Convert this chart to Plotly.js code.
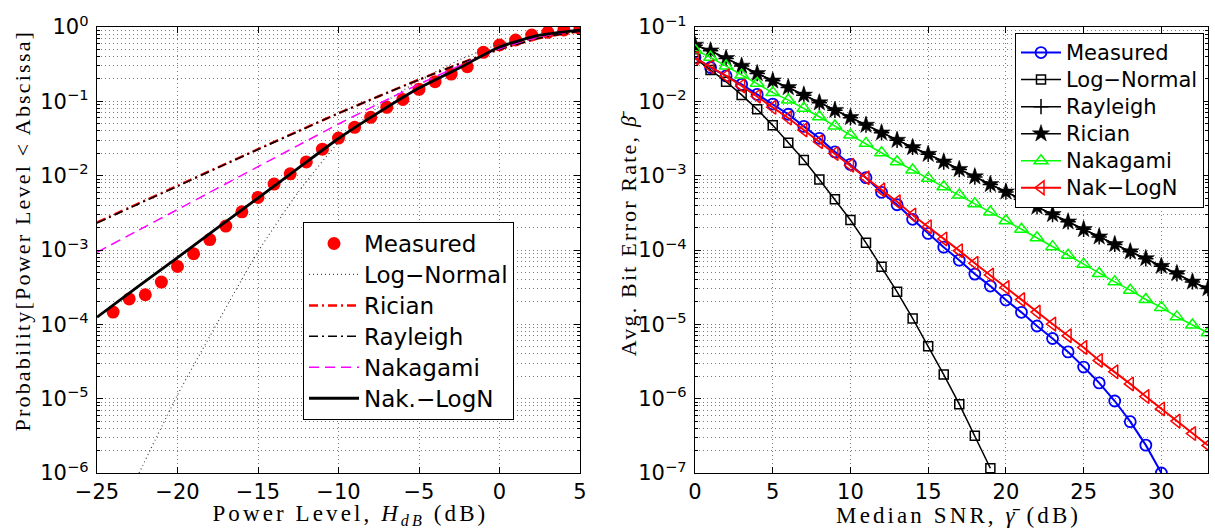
<!DOCTYPE html>
<html><head><meta charset="utf-8">
<script src="https://cdn.plot.ly/plotly-3.0.1.min.js"></script>
<style>
html,body{margin:0;padding:0;background:#fff;}
#chart{width:1215px;height:529px;}
.annotation[data-index="0"] .annotation-text,
.annotation[data-index="1"] .annotation-text{letter-spacing:3.1px;}
.annotation[data-index="2"] .annotation-text,
.annotation[data-index="3"] .annotation-text{letter-spacing:2.2px;}
</style></head><body><div id="chart"></div>
<script>
// ---------- Left panel: CDF of power level ----------
const leftNames = ['Measured', 'Log\u2212Normal', 'Rician', 'Rayleigh', 'Nakagami', 'Nak.\u2212LogN'];
const measuredDb = [-24,-23,-22,-21,-20,-19,-18,-17,-16,-15,-14,-13,-12,-11,-10,-9,-8,-7,-6,-5,-4,-3,-2,-1,0,1,2,3,4,5];
const measuredProb = [1.46e-4,2.2e-4,2.5e-4,3.7e-4,6.0e-4,8.9e-4,1.38e-3,2.1e-3,3.26e-3,5.1e-3,7.7e-3,1.06e-2,1.53e-2,2.27e-2,3.2e-2,4.47e-2,6.1e-2,8.3e-2,0.106,0.145,0.184,0.233,0.292,0.457,0.573,0.668,0.78,0.849,0.912,0.96];
const curveDb = [-25,-22.5,-20,-17.5,-15,-12.5,-10,-7.5,-5,-2.5,0,2.5,5];
const logNormalProb = [null,8.9e-7,1.12e-5,1.07e-4,9.5e-4,6.0e-3,2.8e-2,8.5e-2,0.19,0.36,0.59,0.79,0.91];
const ricianProb = [2.35e-3,4.15e-3,7.3e-3,1.29e-2,2.27e-2,3.97e-2,6.9e-2,0.117,0.196,0.32,0.50,0.71,0.88];
const rayleighProb = [2.3e-3,4.1e-3,7.2e-3,1.28e-2,2.25e-2,3.95e-2,6.9e-2,0.117,0.195,0.32,0.50,0.71,0.88];
const nakagamiProb = [9.3e-4,1.81e-3,3.5e-3,6.8e-3,1.32e-2,2.56e-2,4.95e-2,9.3e-2,0.17,0.30,0.51,0.74,0.90];
const nakLogNProb = [1.25e-4,3.16e-4,7.9e-4,2.0e-3,5.0e-3,1.26e-2,3.16e-2,7.1e-2,0.151,0.28,0.537,0.776,0.91];
const leftExps = [-6,-5,-4,-3,-2,-1,0];

// ---------- Right panel: average BER ----------
const rightNames = ['Measured', 'Log\u2212Normal', 'Rayleigh', 'Rician', 'Nakagami', 'Nak\u2212LogN'];
const snrDb = [0,1,2,3,4,5,6,7,8,9,10,11,12,13,14,15,16,17,18,19,20,21,22,23,24,25,26,27,28,29,30,31,32,33];
const measuredBer = [3.9e-2,2.85e-2,2.2e-2,1.69e-2,1.24e-2,9.2e-3,6.7e-3,4.6e-3,3.18e-3,2.09e-3,1.42e-3,9.4e-4,5.97e-4,4.06e-4,2.59e-4,1.67e-4,1.09e-4,7.3e-5,4.74e-5,3.27e-5,2.12e-5,1.45e-5,9.5e-6,6.45e-6,4.26e-6,2.66e-6,1.63e-6,9.3e-7,4.9e-7,2.37e-7,1.0e-7];
const logNormalBer = [3.79e-2,2.64e-2,1.84e-2,1.22e-2,7.8e-3,4.75e-3,2.77e-3,1.62e-3,8.9e-4,4.8e-4,2.53e-4,1.25e-4,5.94e-5,2.74e-5,1.2e-5,5.08e-6,2.11e-6,8.43e-7,3.16e-7,1.16e-7];
const rayleighBer = [5.7e-2,4.78e-2,3.78e-2,2.98e-2,2.37e-2,1.89e-2,1.53e-2,1.21e-2,9.6e-3,7.6e-3,6.0e-3,4.8e-3,3.77e-3,3.0e-3,2.4e-3,1.94e-3,1.53e-3,1.21e-3,9.6e-4,7.6e-4,6.05e-4,4.8e-4,3.8e-4,3.0e-4,2.4e-4,1.9e-4,1.5e-4,1.19e-4,9.5e-5,7.6e-5,6.05e-5,4.8e-5,3.72e-5,3.03e-5];
const ricianBer = [5.73e-2,4.8e-2,3.79e-2,2.99e-2,2.38e-2,1.89e-2,1.54e-2,1.22e-2,9.6e-3,7.6e-3,6.1e-3,4.8e-3,3.78e-3,3.01e-3,2.4e-3,1.95e-3,1.54e-3,1.22e-3,9.7e-4,7.66e-4,6.07e-4,4.81e-4,3.81e-4,3.02e-4,2.4e-4,1.9e-4,1.51e-4,1.19e-4,9.5e-5,7.7e-5,6.07e-5,4.84e-5,3.73e-5,3.04e-5];
const nakagamiBer = [4.9e-2,3.91e-2,2.98e-2,2.26e-2,1.75e-2,1.31e-2,1.04e-2,8.05e-3,6.2e-3,4.65e-3,3.52e-3,2.72e-3,2.03e-3,1.54e-3,1.19e-3,9.2e-4,7.1e-4,5.5e-4,4.2e-4,3.24e-4,2.48e-4,1.9e-4,1.46e-4,1.11e-4,8.5e-5,6.45e-5,4.84e-5,3.73e-5,2.88e-5,2.16e-5,1.69e-5,1.26e-5,9.8e-6,7.7e-6];
const nakLogNBer = [3.82e-2,2.91e-2,2.2e-2,1.61e-2,1.17e-2,8.3e-3,5.96e-3,4.12e-3,2.86e-3,1.99e-3,1.38e-3,9.35e-4,6.43e-4,4.46e-4,2.96e-4,2.06e-4,1.41e-4,9.8e-5,6.64e-5,4.61e-5,3.13e-5,2.15e-5,1.46e-5,1.01e-5,7.03e-6,4.88e-6,3.27e-6,2.3e-6,1.58e-6,1.07e-6,7.28e-7,4.99e-7,3.39e-7,2.35e-7];
const rightExps = [-7,-6,-5,-4,-3,-2,-1];

// ---------- helpers ----------
const W = 1215, H = 529;
const px = v => v / W, py = v => 1 - v / H;
function logTicks(exps){
  return {vals: exps.map(e => Math.pow(10, e)),
          text: exps.map(e => '10<sup>' + (e < 0 ? '\u2212' + (-e) : e) + '</sup>')};
}
function minorVals(exps){
  const out = [];
  for (let i = 0; i < exps.length - 1; i++) for (let m = 2; m <= 9; m++) out.push(m * Math.pow(10, exps[i]));
  return out;
}
// legend rows keep the tight pitch of a smaller font while the label itself is drawn larger
const bigLabel = (name, size) => '<span style="font-size:' + size + 'px">' + name + '</span>';
const leftLabel = i => bigLabel(leftNames[i], 23);
const rightLabel = i => bigLabel(rightNames[i], 21);

const sans = 'DejaVu Sans, Liberation Sans, Arial, sans-serif';
const gridC = '#7a7a7a';
const gridDash = '1px,3px';
const axCommon = {
  showline: true, linecolor: '#000', linewidth: 1.2, mirror: 'ticks',
  ticks: 'inside', ticklen: 6, tickwidth: 1, tickcolor: '#000',
  showgrid: true, gridcolor: gridC, griddash: gridDash, gridwidth: 1,
  zeroline: false, tickfont: {family: sans, size: 21, color: '#000'}
};
function logAxis(exps, extra){
  const t = logTicks(exps);
  return Object.assign({}, axCommon, {
    type: 'log', range: [exps[0], exps[exps.length-1]], tickmode: 'array',
    tickvals: t.vals, ticktext: t.text, ticklabelstandoff: 3,
    minor: {tickmode: 'array', tickvals: minorVals(exps), ticks: 'inside', ticklen: 3, tickcolor: '#000',
            showgrid: true, gridcolor: gridC, griddash: gridDash, gridwidth: 1}
  }, extra);
}

const traces = [
  {x: measuredDb, y: measuredProb, name: leftLabel(0), mode: 'markers', xaxis: 'x', yaxis: 'y', legend: 'legend',
   marker: {color: '#ff0000', size: 13, symbol: 'circle'}},
  {x: curveDb, y: logNormalProb, name: leftLabel(1), mode: 'lines', xaxis: 'x', yaxis: 'y', legend: 'legend',
   line: {color: '#444', width: 1.2, dash: '1px,3px', shape: 'spline', smoothing: 0.6}},
  {x: curveDb, y: ricianProb, name: leftLabel(2), mode: 'lines', xaxis: 'x', yaxis: 'y', legend: 'legend',
   line: {color: '#ff0000', width: 2.5, dash: '9px,4px,2px,4px', shape: 'spline', smoothing: 0.6}},
  {x: curveDb, y: rayleighProb, name: leftLabel(3), mode: 'lines', xaxis: 'x', yaxis: 'y', legend: 'legend',
   line: {color: '#000', width: 1.5, dash: '9px,4px,2px,4px', shape: 'spline', smoothing: 0.6}},
  {x: curveDb, y: nakagamiProb, name: leftLabel(4), mode: 'lines', xaxis: 'x', yaxis: 'y', legend: 'legend',
   line: {color: '#ff00ff', width: 1.5, dash: '10px,6px', shape: 'spline', smoothing: 0.6}},
  {x: curveDb, y: nakLogNProb, name: leftLabel(5), mode: 'lines', xaxis: 'x', yaxis: 'y', legend: 'legend',
   line: {color: '#000', width: 2.8, shape: 'spline', smoothing: 0.6}},

  {x: snrDb.slice(0, measuredBer.length), y: measuredBer, name: rightLabel(0), mode: 'lines+markers', xaxis: 'x2', yaxis: 'y2', legend: 'legend2',
   line: {color: '#0000ff', width: 2}, marker: {symbol: 'circle-open', size: 11, color: '#0000ff', line: {width: 1.8, color: '#0000ff'}}},
  {x: snrDb.slice(0, logNormalBer.length), y: logNormalBer, name: rightLabel(1), mode: 'lines+markers', xaxis: 'x2', yaxis: 'y2', legend: 'legend2',
   line: {color: '#000', width: 1.5}, marker: {symbol: 'square-open', size: 9, color: '#000', line: {width: 1.5, color: '#000'}}},
  {x: snrDb, y: rayleighBer, name: rightLabel(2), mode: 'lines+markers', xaxis: 'x2', yaxis: 'y2', legend: 'legend2',
   line: {color: '#000', width: 1.5}, marker: {symbol: 'cross-thin-open', size: 11, color: '#000', line: {width: 1.5, color: '#000'}}},
  {x: snrDb, y: ricianBer, name: rightLabel(3), mode: 'lines+markers', xaxis: 'x2', yaxis: 'y2', legend: 'legend2',
   line: {color: '#000', width: 1.5}, marker: {symbol: 'star', size: 13, color: '#000', line: {width: 0.5, color: '#000'}}},
  {x: snrDb, y: nakagamiBer, name: rightLabel(4), mode: 'lines+markers', xaxis: 'x2', yaxis: 'y2', legend: 'legend2',
   line: {color: '#00ff00', width: 1.5}, marker: {symbol: 'triangle-up-open', size: 12, color: '#00ff00', line: {width: 1.5, color: '#00ff00'}}},
  {x: snrDb, y: nakLogNBer, name: rightLabel(5), mode: 'lines+markers', xaxis: 'x2', yaxis: 'y2', legend: 'legend2',
   line: {color: '#ff0000', width: 2}, marker: {symbol: 'triangle-left-open', size: 12, color: '#ff0000', line: {width: 1.5, color: '#ff0000'}}}
];

const serifX = {family: 'Liberation Serif, Times New Roman, serif', size: 23, color: '#000'};
const serifY = {family: 'Liberation Serif, Times New Roman, serif', size: 22, color: '#000'};

const layout = {
  width: W, height: H,
  margin: {l: 0, r: 0, t: 0, b: 0},
  paper_bgcolor: '#fff', plot_bgcolor: '#fff',
  font: {family: sans, size: 21, color: '#000'},
  showlegend: true,
  xaxis: Object.assign({}, axCommon, {domain: [px(97), px(580)], range: [-25, 5], tick0: -25, dtick: 5, anchor: 'y', ticklabelstandoff: 0}),
  yaxis: logAxis(leftExps, {domain: [1 - 473/H, 1 - 27/H], anchor: 'x'}),
  xaxis2: Object.assign({}, axCommon, {domain: [px(695), px(1208)], range: [0, 33], tick0: 0, dtick: 5, anchor: 'y2', ticklabelstandoff: 0}),
  yaxis2: logAxis(rightExps, {domain: [1 - 473/H, 1 - 27/H], anchor: 'x2'}),
  legend: {x: px(303), y: py(222), xanchor: 'left', yanchor: 'top', bgcolor: '#fff', bordercolor: '#000', borderwidth: 1,
           font: {family: sans, size: 21.5, color: '#000'}, itemclick: false, itemwidth: 50},
  legend2: {x: px(1015), y: py(33), xanchor: 'left', yanchor: 'top', bgcolor: '#fff', bordercolor: '#000', borderwidth: 1,
           font: {family: sans, size: 18.5, color: '#000'}, itemclick: false, itemwidth: 40},
  annotations: [
    {text: 'Power Level, <i>H</i><sub><i>dB</i></sub> (dB)', xref: 'paper', yref: 'paper', x: px(350), y: py(515),
     xanchor: 'center', yanchor: 'middle', showarrow: false, font: serifX},
    {text: 'Median SNR, <i>\u03B3\u0304</i> (dB)', xref: 'paper', yref: 'paper', x: px(958), y: py(515),
     xanchor: 'center', yanchor: 'middle', showarrow: false, font: serifX},
    {text: 'Probability[Power Level &lt; Abscissa]', xref: 'paper', yref: 'paper', x: px(23), y: py(231), textangle: -90,
     xanchor: 'center', yanchor: 'middle', showarrow: false, font: serifY},
    {text: 'Avg. Bit Error Rate, <i>\u03B2\u0304</i>', xref: 'paper', yref: 'paper', x: px(629), y: py(232), textangle: -90,
     xanchor: 'center', yanchor: 'middle', showarrow: false, font: serifY}
  ]
};

Plotly.newPlot('chart', traces, layout, {displayModeBar: false, staticPlot: true});
</script></body></html>
